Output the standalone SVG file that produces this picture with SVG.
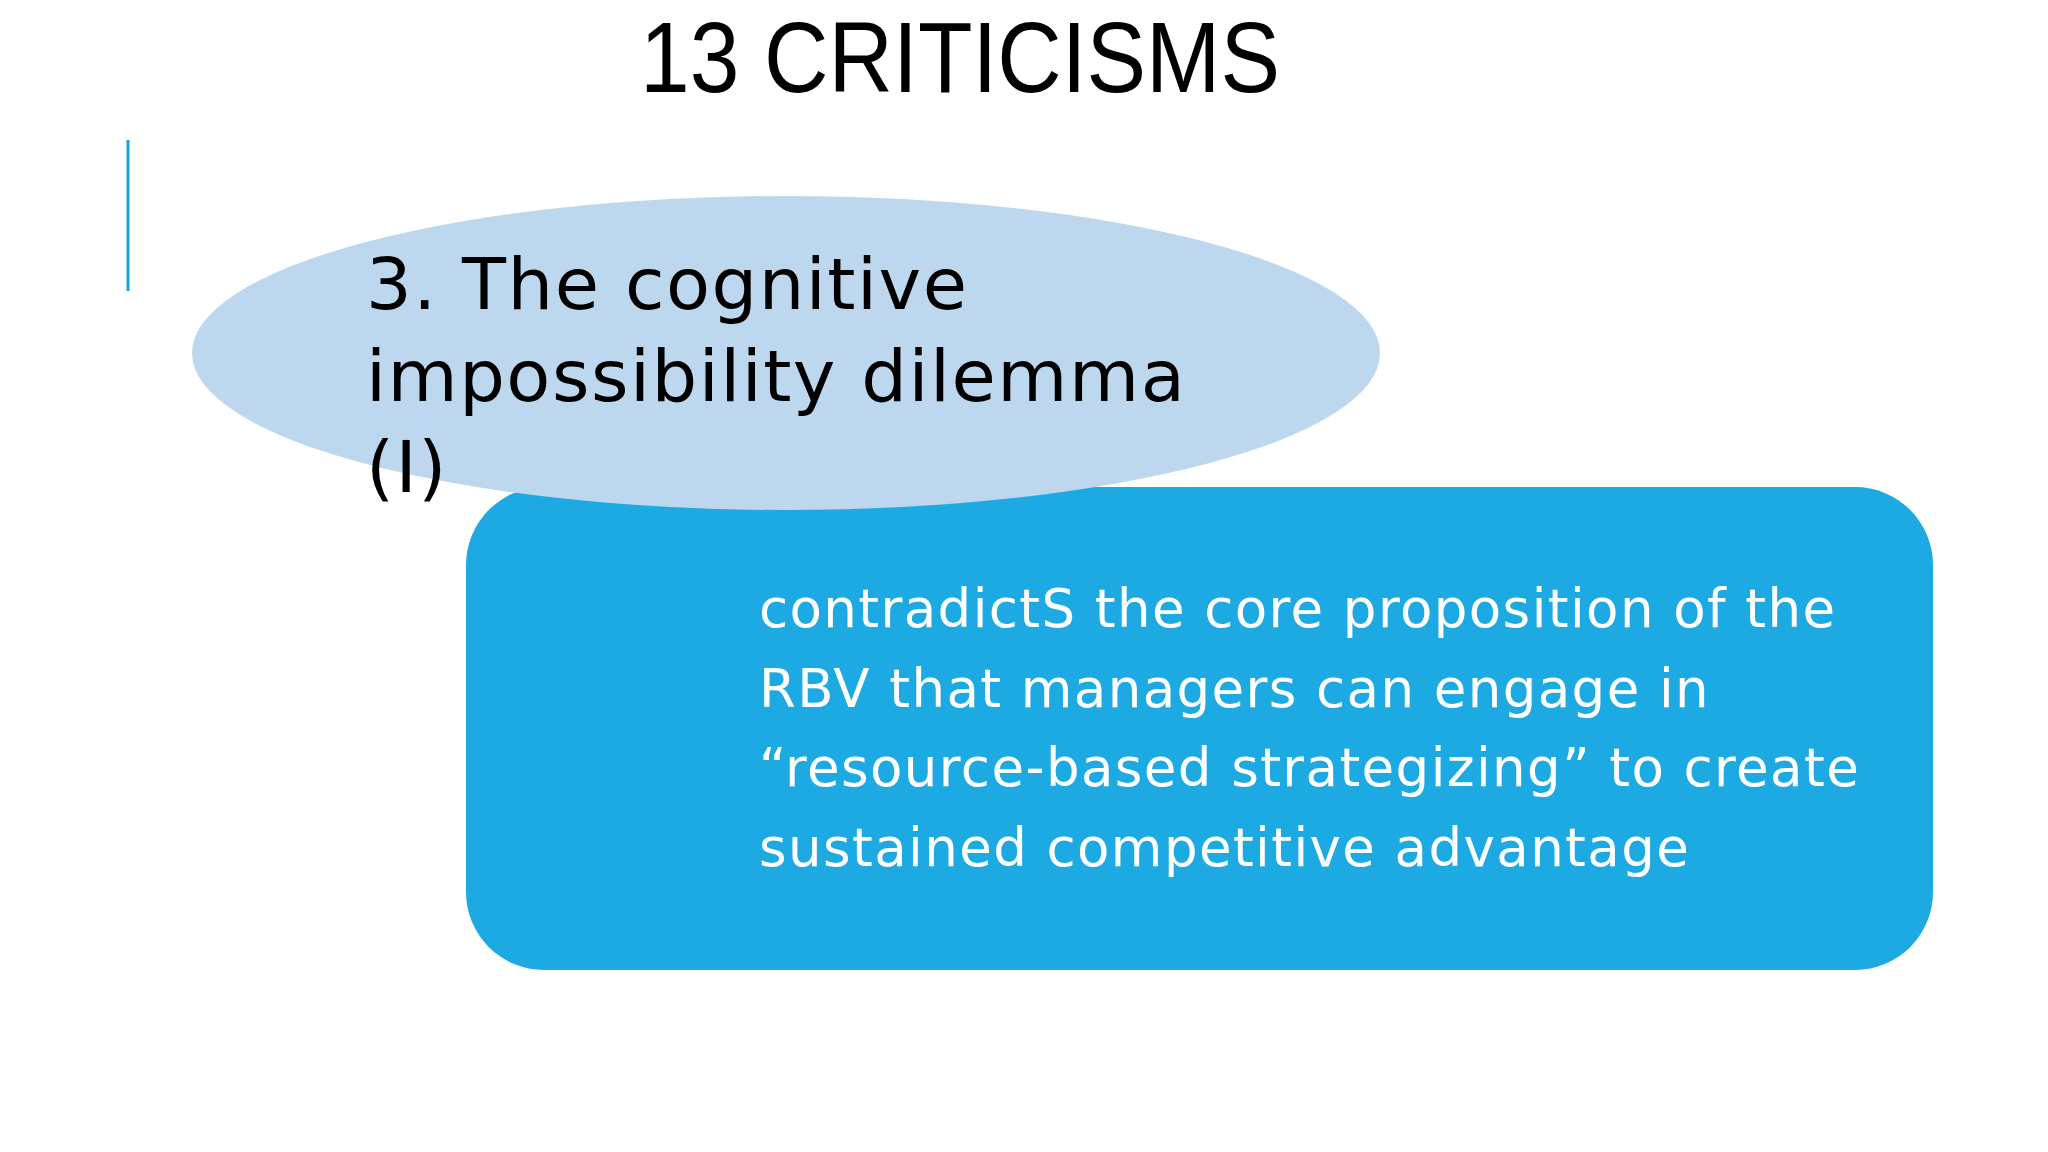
<svg xmlns="http://www.w3.org/2000/svg" width="2048" height="1152" viewBox="0 0 2048 1152">
<style>
.t{font-family:"DejaVu Sans","Noto Sans",sans-serif}
.h{font-family:"Liberation Sans",Arial,sans-serif}
</style>
<rect width="2048" height="1152" fill="#ffffff"/>
<text class="h" x="960" y="92" font-size="100" text-anchor="middle" textLength="640" lengthAdjust="spacingAndGlyphs" fill="#000">13 CRITICISMS</text>
<line x1="128" y1="140" x2="128" y2="291" stroke="#1ca0d8" stroke-width="3"/>
<g id="box">
<rect x="466" y="487" width="1467" height="483" rx="78" fill="#1daae3"/>
<text class="t" fill="#fff" font-size="53" letter-spacing="1.4">
<tspan x="759" y="627">contradictS the core proposition of the</tspan>
<tspan x="759" y="707">RBV that managers can engage in</tspan>
<tspan x="759" y="786">“resource-based strategizing” to create</tspan>
<tspan x="759" y="866">sustained competitive advantage</tspan>
</text>
</g>
<g id="title-ellipse">
<ellipse cx="786" cy="353" rx="594" ry="157" fill="#bdd7ee"/>
<text class="t" fill="#000" font-size="72" letter-spacing="1.5">
<tspan x="366" y="309">3. The cognitive</tspan>
<tspan x="366" y="401">impossibility dilemma</tspan>
<tspan x="366" y="492">(I)</tspan>
</text>
</g>
<g id="connectors"/>
</svg>
